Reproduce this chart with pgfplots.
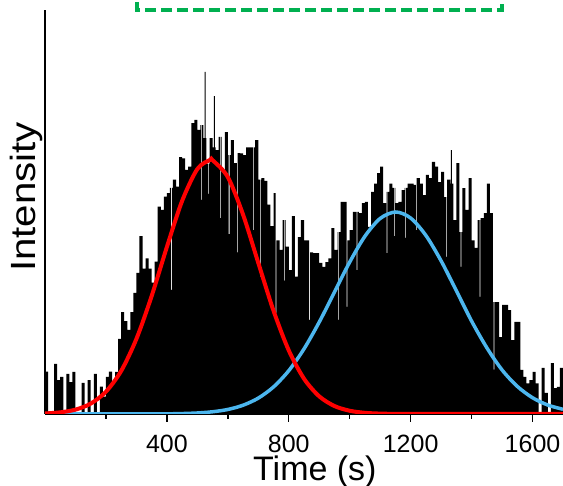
\documentclass[border=0pt]{standalone}
\usepackage{fontspec}
\setmainfont{Liberation Sans}
\newfontfamily\widesans[FakeStretch=1.15]{Liberation Sans}
\usepackage{pgfplots}
\pgfplotsset{compat=1.18}
\usepackage{pgfplotstable}
\definecolor{fitblue}{RGB}{76,182,238}
\definecolor{boxgreen}{RGB}{0,176,80}

\pgfplotstableread{
x y
0 10.5
10 0
20 0
30 12.4
40 8.4
50 9.2
60 0
70 9.9
80 7.9
90 10.4
100 0
110 0
120 7.7
130 0
140 8.4
150 0
160 9.9
170 0
180 6.8
190 4.3
200 9.2
210 10.5
220 8.0
230 10.4
240 18.6
250 25.2
260 23.0
270 20.8
280 25.2
290 30.0
300 34.9
310 44.0
320 36.0
330 38.5
340 36.0
350 32.5
360 37.7
370 51.3
380 50.5
390 53.8
400 54.7
410 56.0
414 30.7
417 56.0
420 58.0
430 56.3
440 63.6
450 63.3
460 60.4
470 61.2
480 72.0
490 72.8
500 70.3
510 71.5
513 53.0
515.5 71.5
520 68.3
524 84.7
527.5 68.3
530 62.0
536 54.5
538.5 62.0
540 68.3
550 66.0
554 78.7
557.5 66.0
560 65.3
570 68.6
575 48.5
577.5 68.6
580 60.0
590 69.8
600 64.1
603 44.5
605.5 64.1
610 67.8
620 62.1
630 40.0
632.5 64.6
640 64.5
650 64.1
660 66.0
670 66.0
680 66.0
683 45.5
685.5 66.0
690 67.8
700 58.0
705 34.0
707.5 58.0
710 58.4
720 57.7
730 51.8
740 46.5
750 54.7
757 25.0
759.5 43.0
770 40.6
780 48.0
784 33.0
786.5 48.0
790 41.4
800 35.6
810 49.0
820 34.0
830 43.8
840 48.0
850 43.0
860 43.0
867 23.3
870 40.0
880 39.8
890 39.8
900 37.4
910 36.4
920 37.6
930 38.5
940 46.0
950 40.6
960 45.0
961 23.3
963.5 45.0
970 52.5
980 52.5
990 26.5
992.5 43.0
1000 45.5
1010 50.0
1020 50.0
1023 35.6
1025.5 50.0
1030 49.7
1040 52.2
1050 52.5
1060 46.3
1070 55.0
1080 57.0
1090 59.6
1100 61.2
1110 52.2
1120 55.0
1121 39.8
1123.5 55.0
1130 57.0
1140 56.0
1146 44.0
1148.5 56.0
1150 52.2
1160 52.5
1170 55.4
1180 56.0
1182 43.6
1184.5 56.0
1190 57.0
1200 57.0
1210 56.7
1217 45.5
1219.5 56.7
1220 58.4
1230 57.0
1240 54.2
1250 59.2
1260 58.4
1270 62.4
1280 61.2
1290 57.4
1300 59.9
1310 53.7
1317 38.9
1320 58.0
1330 57.0
1332 65.3
1335 57.0
1340 48.0
1350 62.1
1360 45.0
1364 36.4
1366.5 45.0
1370 55.9
1380 50.5
1390 58.4
1400 43.0
1410 41.1
1420 48.0
1426 29.0
1428.5 48.0
1430 48.5
1440 49.7
1450 57.0
1460 49.7
1470 27.7
1472 11.0
1474.5 27.7
1480 27.7
1490 19.0
1500 27.0
1510 27.0
1520 25.7
1530 18.3
1540 22.8
1550 22.8
1560 10.9
1570 9.2
1580 7.6
1590 8.4
1600 10.4
1610 7.6
1620 0
1630 11.4
1640 5.2
1650 0
1660 12.6
1670 6.4
1680 6.7
1690 11.4
1700 11.4
}\histdata

\pgfplotstableread{
x y
0 0.139
50 0.408
100 1.078
150 2.57
200 5.52
250 10.66
300 18.59
350 29.2
400 41.34
450 52.74
500 60.64
542 62.9
550 62.82
600 58.65
650 49.35
700 37.41
750 25.56
800 15.74
850 8.74
900 4.37
950 1.97
1000 0.80
1050 0.29
1100 0.10
1150 0.03
1200 0.01
1300 0
1500 0
1700 0
}\reddata

\pgfplotstableread{
x y
0 0
200 0
300 0.006
400 0.04
450 0.11
500 0.25
550 0.55
600 1.12
650 2.17
700 3.93
750 6.70
800 10.72
850 16.11
900 22.75
950 30.18
1000 37.6
1050 44.0
1100 48.4
1151 50.0
1200 48.5
1250 44.2
1300 37.9
1350 30.5
1400 23.0
1450 16.4
1500 10.9
1550 6.84
1600 4.02
1650 2.22
1700 1.16
}\bluedata

\begin{document}
\begin{tikzpicture}
\begin{axis}[
  at={(0,0)}, anchor=south west,
  scale only axis,
  width=259pt, height=202pt,
  xmin=0, xmax=1700, ymin=0, ymax=100,
  axis lines*=left,
  axis line style={line width=0.75pt},
  xtick={400,800,1200,1600},
  minor xtick={200,600,1000,1400},
  ytick=\empty,
  tick align=outside,
  major tick length=4pt,
  minor tick length=2.5pt,
  every tick/.style={black, line width=0.7pt},
  /pgf/number format/assume math mode=true,
  /pgf/number format/set thousands separator={},
  xticklabel style={font=\fontsize{12.5}{14}\selectfont, anchor=base, inner sep=0pt, yshift=-15.5pt},
  every axis x label/.style={at={(rel axis cs:0.521,0)}, anchor=base, inner sep=0pt, yshift=-33.5pt, font=\fontsize{17}{19}\selectfont},
  every axis y label/.style={at={(rel axis cs:-0.0174,0.537)}, rotate=90, anchor=base, inner sep=0pt, font=\widesans\fontsize{17.5}{19}\selectfont},
  xlabel={Time (s)},
  ylabel={Intensity},
]
\addplot[fill=black, draw=none, const plot mark left] table[x=x,y=y] {\histdata} \closedcycle;
\addplot[fitblue, line width=1.75pt, smooth, no marks] table[x=x,y=y] {\bluedata};
\addplot[red, line width=2pt, smooth, no marks] table[x=x,y=y] {\reddata};
\coordinate (g1) at (axis cs:302,100);
\coordinate (g2) at (axis cs:1500,100);
\end{axis}
\draw[boxgreen, line width=1.6pt, dash pattern=on 5.5pt off 2.5pt] ([yshift=20pt]g1) -- (g1) -- (g2) -- ([yshift=20pt]g2);
\pgfresetboundingbox
\path (-22.5pt,-36pt) rectangle (259pt,207pt);
\end{tikzpicture}
\end{document}
